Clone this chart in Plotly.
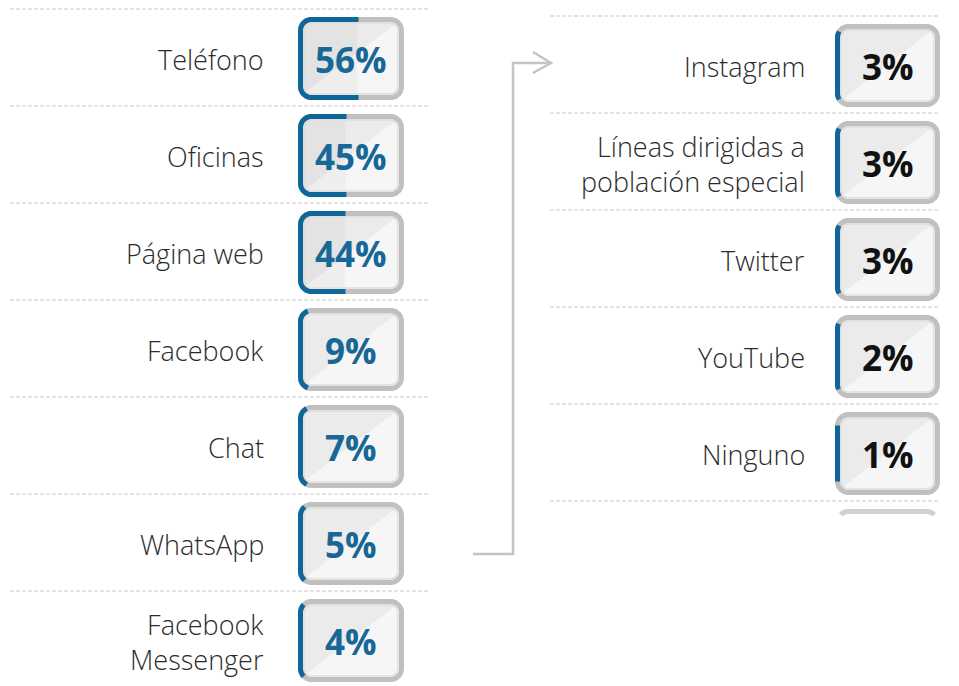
import numpy as np
import plotly.graph_objects as go

# canales de contacto - columna izquierda y derecha
left_labels = ["Teléfono", "Oficinas", "Página web", "Facebook", "Chat", "WhatsApp",
               "Facebook<br>Messenger"]
left_values = [56, 45, 44, 9, 7, 5, 4]

right_labels = ["Instagram", "Líneas dirigidas a<br>población especial", "Twitter",
                "YouTube", "Ninguno"]
right_values = [3, 3, 3, 2, 1]

W, H = 959, 686
OFF = 8  # page body margin
BLUE = "#0f6698"
GRAY = "#c0c0c0"
DASH = "#c8c8c8"
FONT = "Open Sans"

# geometry of each column
cols = [
    dict(labels=left_labels, values=left_values, top=9, pitch=97, bx0=298, bx1=404,
         lx=266, dx0=10, dx1=428, pct_color="#176797", extra_line=False),
    dict(labels=right_labels, values=right_values, top=16, pitch=97, bx0=835, bx1=940,
         lx=807, dx0=550, dx1=940, pct_color="#111111", extra_line=True),
]


def outline(x0, y0, x1, y1, r, step=1.0):
    # rounded rectangle outline, starting mid right edge, going counter-clockwise (screen)
    pts = []

    def seg(a, b):
        n = max(int(np.hypot(b[0] - a[0], b[1] - a[1]) / step), 1)
        for t in np.linspace(0, 1, n, endpoint=False):
            pts.append((a[0] + (b[0] - a[0]) * t, a[1] + (b[1] - a[1]) * t))

    def arc(cx, cy, a0, a1):
        for a in np.linspace(a0, a1, 14, endpoint=False):
            pts.append((cx + r * np.cos(a), cy + r * np.sin(a)))

    ym = (y0 + y1) / 2
    seg((x1, ym), (x1, y0 + r))
    arc(x1 - r, y0 + r, 0, -np.pi / 2)
    seg((x1 - r, y0), (x0 + r, y0))
    arc(x0 + r, y0 + r, -np.pi / 2, -np.pi)
    seg((x0, y0 + r), (x0, y1 - r))
    arc(x0 + r, y1 - r, np.pi, np.pi / 2)
    seg((x0 + r, y1), (x1 - r, y1))
    arc(x1 - r, y1 - r, np.pi / 2, 0)
    seg((x1, y1 - r), (x1, ym))
    pts.append((x1, ym))
    return pts


def to_path(pts, close=False):
    s = "M " + " L ".join(f"{x:.2f},{y:.2f}" for x, y in pts)
    return s + (" Z" if close else "")


fig = go.Figure()
fig.add_trace(go.Scatter(x=[OFF, W], y=[OFF, H], mode="markers", marker=dict(opacity=0),
                         hoverinfo="skip", showlegend=False))

shapes = []
annotations = []

for c in cols:
    n = len(c["labels"])
    tops = [c["top"] + c["pitch"] * i for i in range(n)]
    line_rows = tops + ([c["top"] + c["pitch"] * n] if c["extra_line"] else [])
    for y in line_rows:
        shapes.append(dict(type="line", x0=c["dx0"], x1=c["dx1"], y0=y, y1=y,
                           line=dict(color=DASH, width=1, dash="4px,2px")))

    for i, (lab, val) in enumerate(zip(c["labels"], c["values"])):
        y0 = tops[i] + 8
        y1 = tops[i] + 91
        x0, x1 = c["bx0"], c["bx1"]
        cy = (y0 + y1) / 2
        lw = 5
        r = 11
        ix0, iy0, ix1, iy1 = x0 + lw / 2, y0 + lw / 2, x1 - lw / 2, y1 - lw / 2
        ring = outline(ix0, iy0, ix1, iy1, r)
        # fill: light base, darker upper-left triangle
        shapes.append(dict(type="path", path=to_path(ring, True), fillcolor="#f6f6f6",
                           line=dict(width=0)))
        tri = [(ix0 + 2, iy0 + 2), (ix1 - 3, iy0 + 2), (ix0 + 2, iy1 - 3)]
        shapes.append(dict(type="path", path=to_path(tri, True), fillcolor="#ebebeb",
                           line=dict(width=0)))
        cut = x0 + (x1 - x0) * val / 100.0
        if cut > ix0 + 10:
            shapes.append(dict(type="rect", x0=ix0 + 2, x1=cut, y0=iy0 + 2, y1=iy1 - 2,
                               fillcolor="rgba(0,0,0,0.03)", line=dict(width=0)))
        # gray ring, inner highlight, blue part proportional to value
        shapes.append(dict(type="path", path=to_path(ring, True),
                           line=dict(color=GRAY, width=lw)))
        inner = outline(ix0 + 3.5, iy0 + 3.5, ix1 - 3.5, iy1 - 3.5, r - 3)
        shapes.append(dict(type="path", path=to_path(inner, True),
                           line=dict(color="#dedede", width=1.5)))
        blue = [p for p in ring if p[0] <= cut + 1.5]
        if len(blue) > 1:
            shapes.append(dict(type="path", path=to_path(blue),
                               line=dict(color=BLUE, width=lw)))

        annotations.append(dict(x=c["lx"], y=cy + 1, xref="x", yref="y", text=lab,
                                showarrow=False, xanchor="right", yanchor="middle",
                                align="right",
                                font=dict(family=FONT, size=27, color="#2b2b2b",
                                          weight=300)))
        annotations.append(dict(x=(x0 + x1) / 2, y=cy + 1, xref="x", yref="y",
                                text=f"{val}%", showarrow=False, xanchor="center",
                                yanchor="middle",
                                font=dict(family=FONT, size=35, color=c["pct_color"],
                                          weight="bold")))

    if c["extra_line"]:
        # top of next (cut off) box peeking under the last line
        yb = c["top"] + c["pitch"] * n + 8
        ring = outline(c["bx0"] + 2.5, yb + 2.5, c["bx1"] - 2.5, yb + 90, 11)
        part = [p for p in ring if p[1] <= yb + 6]
        shapes.append(dict(type="path",
                           path=to_path(sorted(part, key=lambda p: p[0])),
                           line=dict(color="#d0d0d0", width=5)))

# connector arrow from left column to right column
ax0 = 473
ax1 = 513
ay_bot = 554
ay_top = 63
tip = 551
shapes.append(dict(type="path",
                   path=f"M {ax0},{ay_bot} L {ax1},{ay_bot} L {ax1},{ay_top} L {tip},{ay_top}",
                   line=dict(color="#c4c4c4", width=2.5)))
shapes.append(dict(type="path",
                   path=f"M {tip - 18},{ay_top - 11} L {tip},{ay_top} L {tip - 18},{ay_top + 10}",
                   line=dict(color="#c4c4c4", width=2.5)))

fig.update_layout(
    width=W - OFF, height=H - OFF,
    margin=dict(l=0, r=0, t=0, b=0),
    paper_bgcolor="white", plot_bgcolor="white",
    xaxis=dict(range=[OFF, W], visible=False, fixedrange=True),
    yaxis=dict(range=[H, OFF], visible=False, fixedrange=True),
    shapes=shapes,
    annotations=annotations,
    showlegend=False,
)

fig.write_html("out.html")
